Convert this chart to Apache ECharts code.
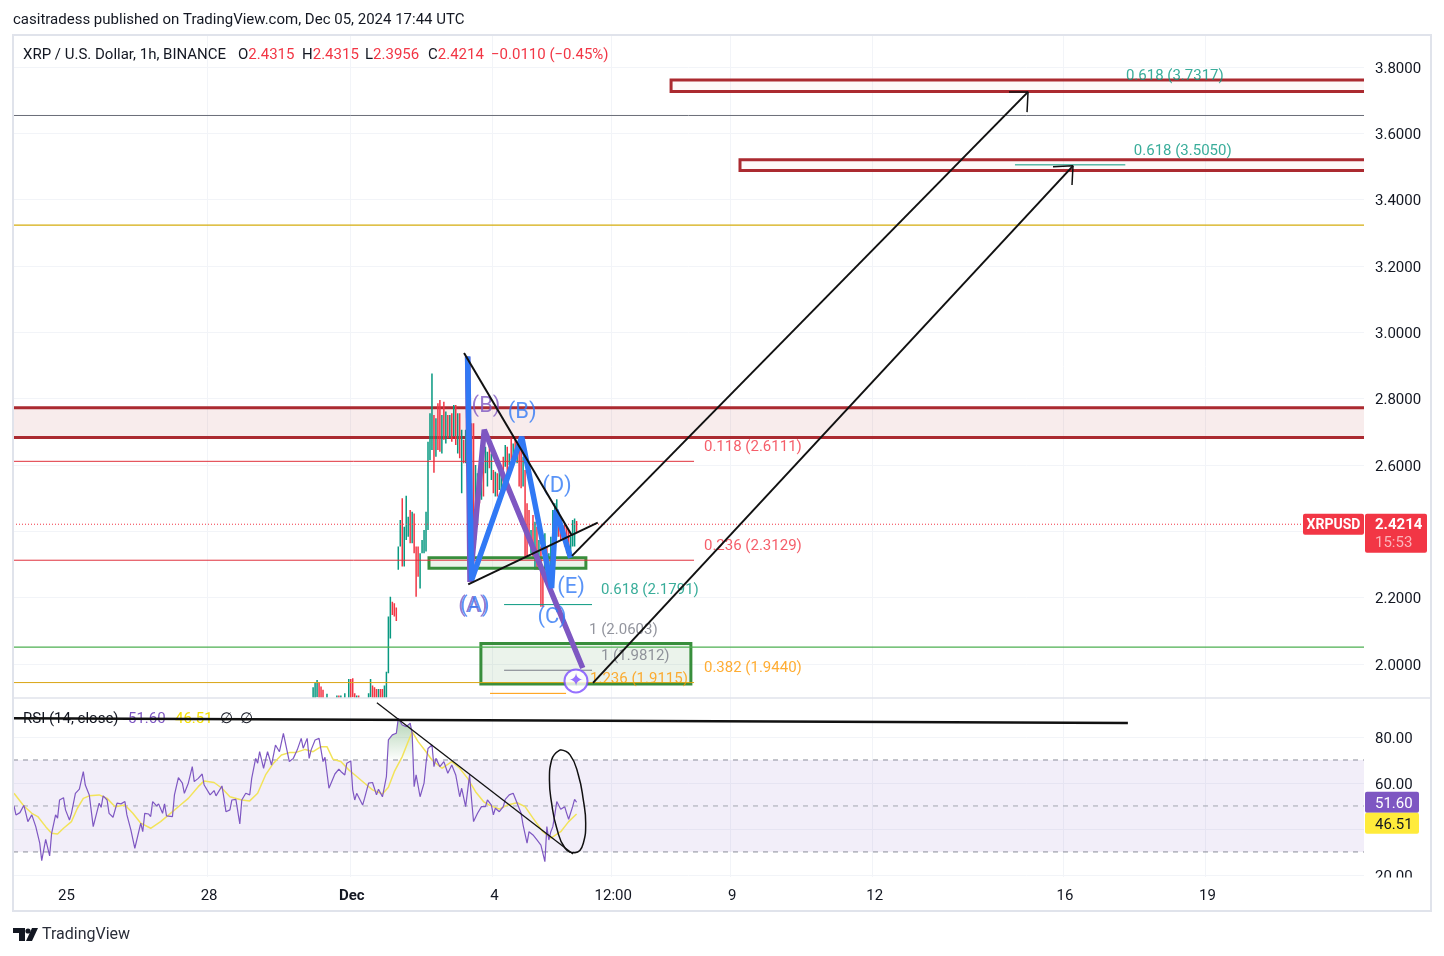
<!DOCTYPE html>
<html><head><meta charset="utf-8">
<style>html,body{margin:0;padding:0;background:#fff}#c{width:1444px;height:956px}</style>
<script src="https://cdn.jsdelivr.net/npm/echarts@6/dist/echarts.min.js"></script></head>
<body><div id="c"></div>
<script>
const FONT='Roboto';
const barCount=682, firstCandleBar=151;
const priceTicks=[2.0,2.2,2.4,2.6,2.8,3.0,3.2,3.4,3.6,3.8];
const rsiGridTicks=[20,40,60,80];
const rsiTickLabels=[20,60,80];
const xTickBars=[26,98,170,242,302,362,434,530,602];
const xTickLabels=['25','28','Dec','4','12:00','9','12','16','19'];
// [open, close, low, high], one per hour
const candles=[
[1.88,1.92,1.87,1.93],[1.90,1.94,1.89,1.945],[1.91,1.95,1.90,1.952],[1.94,1.90,1.89,1.945],[1.92,1.89,1.88,1.932],
[1.91,1.885,1.88,1.922],[1.87,1.88,1.865,1.89],[1.88,1.905,1.875,1.91],[1.89,1.875,1.87,1.892],[1.88,1.87,1.865,1.885],
[1.87,1.88,1.865,1.89],[1.875,1.89,1.87,1.895],[1.88,1.90,1.875,1.905],[1.90,1.88,1.875,1.905],[1.88,1.90,1.875,1.905],
[1.89,1.875,1.87,1.895],[1.875,1.905,1.87,1.912],[1.89,1.88,1.875,1.895],[1.88,1.95,1.875,1.955],[1.95,1.90,1.89,1.955],
[1.95,1.91,1.90,1.957],[1.91,1.885,1.88,1.912],[1.885,1.90,1.88,1.905],[1.90,1.885,1.88,1.905],[1.885,1.87,1.865,1.89],
[1.87,1.88,1.865,1.89],[1.88,1.87,1.86,1.885],[1.87,1.885,1.865,1.89],[1.885,1.905,1.88,1.912],[1.905,1.95,1.90,1.955],
[1.93,1.90,1.89,1.935],[1.925,1.90,1.89,1.93],[1.92,1.895,1.885,1.925],[1.895,1.92,1.89,1.925],[1.92,1.90,1.89,1.925],
[1.92,1.895,1.885,1.925],[1.895,1.93,1.89,1.935],[1.93,1.972,1.89,1.977],[1.972,2.13,1.972,2.143],[2.13,2.19,2.077,2.203],
[2.18,2.155,2.148,2.188],[2.175,2.15,2.143,2.183],[2.16,2.14,2.13,2.17],[2.29,2.345,2.284,2.354],[2.354,2.43,2.354,2.434],
[2.49,2.31,2.294,2.50],[2.30,2.405,2.294,2.414],[2.385,2.50,2.374,2.507],[2.39,2.44,2.384,2.444],[2.46,2.37,2.364,2.464],
[2.37,2.45,2.364,2.459],[2.45,2.34,2.334,2.454],[2.35,2.21,2.203,2.354],[2.35,2.27,2.263,2.354],[2.23,2.32,2.228,2.334],
[2.34,2.36,2.334,2.374],[2.34,2.40,2.334,2.404],[2.345,2.45,2.339,2.459],[2.41,2.66,2.404,2.67],[2.62,2.75,2.615,2.756],
[2.65,2.78,2.645,2.876],[2.745,2.585,2.577,2.751],[2.63,2.735,2.625,2.741],[2.78,2.65,2.645,2.786],[2.79,2.645,2.64,2.796],
[2.64,2.745,2.635,2.751],[2.785,2.68,2.676,2.791],[2.67,2.755,2.665,2.761],[2.745,2.685,2.681,2.751],[2.685,2.745,2.681,2.751],
[2.75,2.68,2.67,2.756],[2.69,2.775,2.686,2.781],[2.775,2.67,2.66,2.781],[2.64,2.75,2.635,2.756],[2.75,2.63,2.62,2.756],
[2.525,2.70,2.515,2.706],[2.67,2.61,2.605,2.676],[2.61,2.70,2.605,2.706],[2.62,2.90,2.60,2.927],[2.90,2.40,2.354,2.907],
[2.72,2.26,2.253,2.726],[2.72,2.42,2.414,2.726],[2.38,2.59,2.374,2.6],[2.43,2.57,2.424,2.575],[2.58,2.49,2.485,2.585],
[2.50,2.58,2.495,2.585],[2.67,2.51,2.505,2.676],[2.60,2.65,2.575,2.655],[2.54,2.64,2.535,2.64],[2.65,2.60,2.59,2.66],
[2.56,2.63,2.555,2.635],[2.58,2.52,2.515,2.585],[2.51,2.57,2.505,2.58],[2.57,2.51,2.505,2.575],[2.53,2.58,2.525,2.585],
[2.51,2.57,2.505,2.58],[2.62,2.53,2.525,2.625],[2.60,2.655,2.595,2.66],[2.65,2.58,2.575,2.655],[2.605,2.63,2.6,2.635],
[2.675,2.62,2.615,2.681],[2.61,2.66,2.605,2.665],[2.67,2.62,2.615,2.676],[2.61,2.66,2.605,2.665],[2.67,2.54,2.535,2.676],
[2.66,2.535,2.53,2.665],[2.54,2.62,2.535,2.625],[2.58,2.33,2.324,2.585],[2.48,2.33,2.324,2.485],[2.46,2.38,2.374,2.464],
[2.34,2.40,2.334,2.404],[2.445,2.33,2.324,2.449],[2.29,2.425,2.284,2.429],[2.41,2.29,2.284,2.414],[2.29,2.37,2.284,2.374],
[2.35,2.19,2.173,2.354],[2.28,2.19,2.173,2.284],[2.26,2.39,2.253,2.394],[2.35,2.25,2.243,2.354],[2.23,2.33,2.223,2.334],
[2.24,2.38,2.233,2.384],[2.34,2.455,2.334,2.464],[2.38,2.48,2.374,2.485],[2.39,2.49,2.384,2.497],[2.43,2.39,2.384,2.434],
[2.44,2.38,2.374,2.444],[2.39,2.415,2.384,2.419],[2.42,2.36,2.354,2.424],[2.41,2.34,2.334,2.414],[2.40,2.33,2.324,2.404],
[2.33,2.38,2.324,2.384],[2.36,2.43,2.354,2.434],[2.38,2.4315,2.354,2.439],[2.4315,2.4214,2.3956,2.4315]];
// RSI readings as [bar, value]
const rsiValues=[[0,50],[1,46.1],[3,47.1],[5,50.3],[6,46.8],[7,43.2],[9,46.1],[11,41],[12,40.3],[13,33.8],[14,26.2],[16,35.5],[18,28.3],[19,38.1],[20,37.4],[21,46.1],[22,44.7],[23,52.6],[25,53.6],[26,48.3],[28,43.9],[29,46.8],[31,55.5],[33,57.3],[35,64.9],[36,59.1],[38,54.8],[40,41],[43,51.2],[44,49.4],[45,54.4],[47,52.6],[48,46.8],[50,45.1],[52,51.2],[54,50.9],[56,51.9],[57,46.1],[59,39.6],[61,31.6],[62,31.6],[64,42.5],[65,38.8],[66,46.8],[68,46.5],[69,45.4],[70,51.9],[72,50],[73,50.9],[75,46.8],[76,50.9],[77,45.7],[80,45.4],[81,54.8],[83,62.3],[85,59.9],[86,55.5],[88,59.9],[90,67.1],[91,60.6],[93,62],[95,63.9],[96,59.1],[99,54.8],[101,56.7],[102,54.4],[105,58.7],[106,53.4],[107,47.5],[109,48.3],[110,52.6],[112,52.9],[114,42.2],[115,52.6],[117,55.5],[119,54.8],[120,62],[122,70.7],[123,68.6],[124,73.6],[126,66.4],[128,73.6],[130,67.8],[132,76.5],[134,73.6],[136,81.6],[139,69.3],[141,70.7],[143,74.4],[145,79.4],[146,75.1],[148,79.4],[149,70.7],[150,74.4],[152,78.7],[154,79.4],[156,69.3],[157,71.2],[159,57.7],[160,57.7],[162,63.9],[164,66],[165,65],[167,63.5],[168,68.6],[170,69.6],[171,57],[172,52.6],[173,55.5],[174,54.8],[176,50.4],[177,53.4],[179,59.9],[181,60.2],[183,54.8],[184,57.3],[186,54],[188,62.8],[189,78.7],[191,80.9],[193,81.6],[194,88.1],[196,85.2],[198,84.5],[200,86],[201,81.6],[202,58.4],[203,63.5],[205,54],[207,59.9],[208,68.6],[209,75],[211,76.5],[212,67.1],[213,70.7],[215,67.1],[217,69.3],[219,64.2],[221,67.8],[223,63.5],[225,54],[226,57.7],[228,49.7],[230,63.5],[231,52.6],[232,43.2],[234,46.8],[235,47.5],[236,49.7],[238,49.7],[239,52.6],[241,50.4],[242,46.1],[243,49],[245,47.5],[247,49.7],[248,52.9],[250,54.8],[252,55.5],[254,51.2],[256,46.8],[257,41.7],[259,33.8],[260,38.8],[262,37.4],[264,35.2],[266,33],[268,25.8],[269,41],[270,35.2],[271,38.8],[272,41],[273,46.1],[274,51.9],[276,48.6],[278,49.7],[279,46.8],[280,44.2],[282,49.7],[283,52.9],[284,51.6]];
const rsiMaValues=[[0,55.5],[5,50],[9,46.8],[12,45.4],[16,41],[19,38.1],[22,37.8],[25,40.3],[29,43.2],[32,49],[35,53.3],[38,54.4],[43,54.8],[47,53.3],[51,49.7],[56,50.4],[60,46.8],[64,42.5],[69,40.3],[74,43.2],[79,46.8],[84,50.4],[88,53.3],[93,58.4],[96,60.9],[101,60.2],[105,57.7],[109,54],[115,52.6],[119,52.2],[123,55.5],[127,63.5],[131,68.6],[135,72.2],[139,73.2],[142,73.2],[147,74.6],[151,73.6],[155,75.8],[158,75.8],[161,70.3],[165,69.3],[169,65.7],[173,62.8],[177,59.9],[181,57],[186,55.2],[189,58.1],[192,64.9],[196,71.5],[199,78],[201,82.3],[204,78],[208,73.6],[211,70],[216,66.4],[221,69.3],[225,66.4],[229,62],[233,56.2],[237,51.9],[240,50.4],[245,48.6],[249,50.4],[254,51.4],[258,49.7],[262,44.7],[267,38.8],[271,36],[276,38.8],[280,43.2],[284,46.51]];
const rsiBand=[30,70], rsiMid=50;
const lastClose=2.4214, lastRsi=51.60, lastRsiMa=46.51;
// drawings, in [bar, price] or [bar, rsi]
const waveBlue=[[229,2.927],[231,2.253],[256.3,2.685],[271.4,2.229],[273.6,2.464],[281,2.32]];
const wavePurple=[[229,2.927],[230.2,2.247],[237.4,2.706],[287.1,1.988]];
const trendDown=[[227.2,2.938],[281.5,2.389]];
const trendUp=[[229.3,2.24],[294.7,2.426]];
const arrowA=[[281.7,2.326],[511.9,3.725]], arrowAHead=[[502.3,3.725],[511.9,3.725],[511.4,3.664]];
const arrowB=[[292.3,1.943],[534.6,3.502]], arrowBHead=[[524.5,3.499],[534.6,3.502],[534.1,3.444]];
const redZones=[[331.7,3.761,700,3.726],[366.5,3.520,700,3.488],[-10,2.773,700,2.683]];
const greenZones=[[209.5,2.32,288.7,2.289],[235.7,2.062,341.7,1.94]];
const fibRed=[2.6111,2.3129], fibLeftEnd=343.3;
const fibOrange=1.944;
const fullLines={gray:3.6538,gold:3.3234,green:2.051};
const fibShort=[
 {bars:[505.3,561],price:3.505,c:'#089981'},{bars:[247.4,291.8],price:2.1791,c:'#089981'},
 {bars:[247.4,291.8],price:1.9812,c:'#787b86'},{bars:[240.3,278.7],price:1.9115,c:'#ff9800'}];
const fibLabels=[
 [561.3,3.776,'0.618 (3.7317)','#089981'],[565.3,3.55,'0.618 (3.5050)','#089981'],
 [348.3,2.657,'0.118 (2.6111)','#f23645'],[348.3,2.359,'0.236 (2.3129)','#f23645'],
 [296.3,2.226,'0.618 (2.1791)','#089981'],[290.3,2.106,'1 (2.0603)','#787b86'],
 [296.3,2.027,'1 (1.9812)','#787b86'],[348.3,1.991,'0.382 (1.9440)','#ff9800'],[290.8,1.958,'1.236 (1.9115)','#ff9800']];
const waveLabels=[
 [231.7,2.178,'(A)','#7e57c2'],[238.3,2.781,'(B)','#7e57c2'],
 [232.7,2.178,'(A)','#3179f5'],[256.5,2.763,'(B)','#3179f5'],[271.6,2.145,'(C)','#3179f5'],[274.1,2.54,'(D)','#3179f5'],[281.2,2.235,'(E)','#3179f5']];
const marker=[283.7,1.949];
const rsiCeiling=[[0,88.1],[562.3,86.1]];
const rsiTrend=[[183.2,94.9],[282.2,29.1]];
const rsiLoop=[[275.7,74.4],[280.7,72.2],[284.9,63.5],[287.4,52.6],[288.6,42.5],[287.4,33.8],[283.2,29.7],[278.2,31.6],[274,40.3],[271.4,51.2],[270.3,61.3],[271.4,70],[275.7,74.4]];

const categories=Array.from({length:barCount},(_,i)=>String(i));
const labelByBar={}; xTickBars.forEach((b,i)=>labelByBar[b]=xTickLabels[i]);
const isTick=i=>labelByBar[i]!==undefined;
const candleData=Array(firstCandleBar).fill(['-','-','-','-']).concat(candles);
const GRID='#f2f4f8', BLACK='#111', ZONE='#ab2a30';
const pad=-0.5, padEnd=barCount-0.5;
const line=(data,color,width,opts={})=>Object.assign({type:'line',xAxisIndex:2,yAxisIndex:0,data,symbol:'none',silent:true,animation:false,
  lineStyle:{color,width},z:5},opts);
const rline=(data,color,width,opts={})=>line(data,color,width,Object.assign({xAxisIndex:3,yAxisIndex:1},opts));
const rects=(data,stroke,fill,z)=>({type:'custom',xAxisIndex:2,yAxisIndex:0,data,clip:true,z,silent:true,animation:false,
  encode:{x:[0,2],y:[1,3]},
  renderItem:(p,api)=>{const a=api.coord([api.value(0),api.value(1)]),b=api.coord([api.value(2),api.value(3)]);
    return {type:'rect',shape:{x:a[0],y:a[1],width:b[0]-a[0],height:b[1]-a[1]},style:{fill,stroke,lineWidth:3}};}});
const labels=(data,fontSize,position,z)=>({type:'scatter',xAxisIndex:2,yAxisIndex:0,symbolSize:0,silent:true,animation:false,z,clip:false,
  data:data.map(d=>({value:[d[0],d[1]],label:{show:true,position,distance:0,offset:[0,1.5],formatter:d[2],color:d[3],fontSize,fontFamily:FONT}}))});
const valueX=(grid)=>({type:'value',gridIndex:grid,min:pad,max:padEnd,show:false});
const catX=(grid,showLabel)=>({type:'category',gridIndex:grid,data:categories,boundaryGap:true,
  axisLine:{show:false},axisTick:{show:false},
  splitLine:{show:true,showMinLine:false,showMaxLine:false,interval:(i)=>isTick(i),lineStyle:{color:GRID,width:1}},
  axisLabel:{show:showLabel,interval:(i)=>isTick(i),hideOverlap:false,margin:12,padding:[0,0,0,2],fontFamily:FONT,fontSize:15,color:'#131722',
    formatter:(v)=>{const t=labelByBar[+v];return t==='Dec'?'{b|Dec}':t;},rich:{b:{fontWeight:'bold',fontFamily:FONT,fontSize:15,color:'#131722'}}}});
const tickRich={a:{fontFamily:FONT,fontSize:15,color:'#131722',padding:[4,0,0,0]}};
const option={animation:false,backgroundColor:'#fff',
 grid:[{left:13,right:80,top:35,height:663},{left:13,right:80,top:698,height:179}],
 xAxis:[catX(0,false),catX(1,true),valueX(0),valueX(1)],
 yAxis:[
  {type:'value',gridIndex:0,position:'right',min:1.8975,max:3.8965,scale:true,
   axisLine:{show:false},axisTick:{show:false,customValues:priceTicks},
   splitLine:{show:true,lineStyle:{color:GRID}},
   axisLabel:{customValues:priceTicks,margin:11,align:'left',rich:tickRich,formatter:v=>'{a|'+v.toFixed(4)+'}'}},
  {type:'value',gridIndex:1,position:'right',min:19.1,max:96.96,
   axisLine:{show:false},axisTick:{show:false,customValues:rsiGridTicks},
   splitLine:{show:true,lineStyle:{color:GRID}},
   axisLabel:{customValues:rsiTickLabels,margin:11,align:'left',rich:tickRich,formatter:v=>'{a|'+v.toFixed(2)+'}'}}],
 series:[
  line([[pad,rsiBand[0]],[padEnd,rsiBand[0]]],'#787b86',1,{xAxisIndex:3,yAxisIndex:1,z:1,lineStyle:{color:'#8b8e99',width:1,type:[5,5]},
     markArea:{silent:true,itemStyle:{color:'rgba(126,87,194,0.1)'},data:[[{yAxis:rsiBand[0]},{yAxis:rsiBand[1]}]]}}),
  rline([[pad,rsiBand[1]],[padEnd,rsiBand[1]]],'#787b86',1,{z:1,lineStyle:{color:'#8b8e99',width:1,type:[5,5]}}),
  rline([[pad,rsiMid],[padEnd,rsiMid]],'#787b86',1,{z:1,lineStyle:{color:'#a3a6af',width:1,type:[5,5]}}),
  rects(redZones.slice(2),ZONE,'rgba(178,40,47,0.09)',2),
  {type:'candlestick',xAxisIndex:0,yAxisIndex:0,data:candleData,barWidth:0,z:3,silent:true,large:true,largeThreshold:1,animation:false,clip:true,
   itemStyle:{color:'#089981',color0:'#f23645',borderColor:'#089981',borderColor0:'#f23645',borderWidth:1.5}},
  rects(redZones.slice(0,2),ZONE,'rgba(178,40,47,0.03)',4),
  rects(greenZones,'#388e3c','rgba(56,142,60,0.1)',4),
  line([[pad,fibRed[0]],[fibLeftEnd,fibRed[0]]],'#e0303c',1),
  line([[pad,fibRed[1]],[fibLeftEnd,fibRed[1]]],'#e0303c',1),
  line([[pad,fibOrange],[fibLeftEnd,fibOrange]],'#d9a514',1),
  line([[pad,fullLines.gray],[padEnd,fullLines.gray]],'#6a6d78',1),
  line([[pad,fullLines.gold],[padEnd,fullLines.gold]],'#d4ac0d',1.4),
  line([[pad,fullLines.green],[padEnd,fullLines.green]],'#4caf50',1.4),
  line([[pad,lastClose],[padEnd,lastClose]],'#f23645',1,{lineStyle:{color:'#f23645',width:1,type:[1,2]}}),
  ...fibShort.map(f=>line(f.bars.map(b=>[b,f.price]),f.c,1)),
  labels(fibLabels,15,'right',4),
  line(wavePurple,'#7e57c2',5.5,{z:6}),
  line(waveBlue,'#3179f5',5.5,{z:6}),
  labels(waveLabels,22,'inside',7),
  line(trendDown,BLACK,2,{z:8}),line(trendUp,BLACK,2,{z:8}),
  line(arrowA,BLACK,2,{z:8}),line(arrowAHead,BLACK,1.5,{z:8}),
  line(arrowB,BLACK,2,{z:8}),line(arrowBHead,BLACK,1.5,{z:8}),
  {type:'scatter',xAxisIndex:2,yAxisIndex:0,data:[marker],symbol:'circle',symbolSize:23,z:9,silent:true,animation:false,clip:false,
   itemStyle:{color:'#fff',borderColor:'#7c4dff',borderWidth:2},
   label:{show:true,position:'inside',formatter:'✦',color:'#7c4dff',fontSize:18,fontFamily:'DejaVu Sans'}},
  rline(rsiValues.filter(d=>d[0]>=189&&d[0]<=201),'transparent',0,{z:2,
    areaStyle:{origin:rsiBand[1],color:{type:'linear',x:0,y:0,x2:0,y2:1,colorStops:[{offset:0,color:'rgba(56,142,60,0.55)'},{offset:1,color:'rgba(56,142,60,0.02)'}]}}}),
  rline(rsiMaValues,'#f2e35a',1.5,{z:3}),
  rline(rsiValues,'#7e57c2',1.2,{z:4}),
  rline(rsiCeiling,BLACK,2.5,{z:8}),
  rline(rsiTrend,BLACK,1.3,{z:8}),
  rline(rsiLoop,BLACK,1.5,{z:8,smooth:0.5}),
 ]};
const chart=echarts.init(document.getElementById('c'),null,{renderer:'canvas'});
chart.setOption(option);
const py=v=>chart.convertToPixel({yAxisIndex:0},v);
const ry=v=>chart.convertToPixel({yAxisIndex:1},v);
const F='15px '+FONT;
const rs=(c)=>({fill:c,color:c,fontSize:15,fontFamily:FONT});
const rt={r:rs('#f23645'),d:rs('#131722')};
const txt=(x,y,text,fill='#131722',font=F,z=1,align='left')=>({type:'text',x,y:y+1.5,z,silent:true,style:{text,rich:rt,font,fill,verticalAlign:'middle',align}});
const tag=(x,y,w,h,fill,z=20)=>({type:'rect',shape:{x,y,width:w,height:h,r:2},style:{fill},z,silent:true});
const pc=py(lastClose), rc=ry(lastRsi);
chart.setOption({graphic:{elements:[
  {type:'rect',shape:{x:13,y:35,width:1418,height:876},style:{fill:'none',stroke:'#e0e3eb',lineWidth:2},z:15,silent:true},
  {type:'line',shape:{x1:13,y1:698,x2:1431,y2:698},style:{stroke:'#e0e3eb',lineWidth:1.5},z:15,silent:true},
  {type:'rect',shape:{x:1365,y:877.5,width:64,height:12},style:{fill:'#fff'},z:14,silent:true},
  txt(13,19,'casitradess published on TradingView.com, Dec 05, 2024 17:44 UTC'),
  txt(23,54,'XRP / U.S. Dollar, 1h, BINANCE'),
  txt(238,54,'O{r|2.4315}'),txt(302,54,'H{r|2.4315}'),txt(365,54,'L{r|2.3956}'),txt(428,54,'C{r|2.4214}'),
  txt(491,54,'−0.0110 (−0.45%)','#f23645'),
  txt(23,718,'RSI (14, close)'),txt(128,718,'51.60','#7e57c2'),txt(175,718,'46.51','#f5e000'),txt(220,718,'∅'),txt(240,718,'∅'),
  tag(1303,pc-10.5,61,21,'#f23645'),
  txt(1333.5,pc,'XRPUSD','#fff','bold 14px '+FONT,21,'center'),
  tag(1365,pc-10.5,62,39,'#f23645'),
  txt(1375,pc,'2.4214','#fff','bold 15px '+FONT,21),
  txt(1375,pc+18,'15:53','#fbb5bb',F,21),
  tag(1365,rc-10.5,54,21,'#7e57c2'),
  txt(1375,rc,'51.60','#fff',F,21),
  tag(1365,rc+10.5,54,21,'#ffeb3b'),
  txt(1375,rc+21,'46.51','#131722',F,21),
  {type:'polygon',shape:{points:[[13,928],[25,928],[25,941],[19,941],[19,933],[13,933]]},style:{fill:'#131722'},z:1,silent:true},
  {type:'circle',shape:{cx:28,cy:931,r:2.6},style:{fill:'#131722'},z:1,silent:true},
  {type:'polygon',shape:{points:[[32,928],[38,928],[32,941],[26,941]]},style:{fill:'#131722'},z:1,silent:true},
  txt(42,933.5,'TradingView','#2a2e39','16px '+FONT),
]}});
</script></body></html>
